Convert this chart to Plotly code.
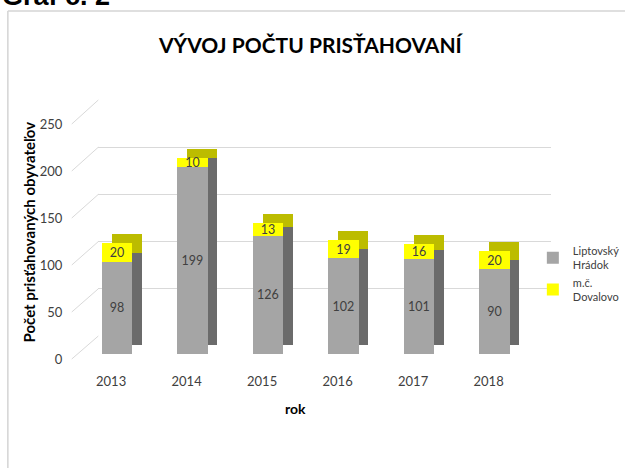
import plotly.graph_objects as go

years = ['2013', '2014', '2015', '2016', '2017', '2018']
hradok = [98, 199, 126, 102, 101, 90]
dovalovo = [20, 10, 13, 19, 16, 20]
y_ticks = [0, 50, 100, 150, 200, 250]

W, H = 625, 468
XW = 592  # paper width the page actually lays the figure out at
FONT = 'Lato, Open Sans, sans-serif'
TXT = '#404040'
GRID = '#d9d9d9'


def px(a):
    return a / XW


def dx(a, b):
    return [px(a), px(b)]


def dy(top, bottom):
    return [(H - bottom) / H, (H - top) / H]


def py(p):
    return (H - p) / H


fig = go.Figure()

# back wall (gridlines only)
fig.add_trace(go.Scatter(x=[0], y=[0], mode='markers', marker=dict(opacity=0),
                         showlegend=False, hoverinfo='skip', xaxis='x', yaxis='y'))

# side / top faces of the bars (shifted copy)
fig.add_trace(go.Bar(x=years, y=hradok, marker_color='#6b6b6b', width=0.4,
                     showlegend=False, hoverinfo='skip', xaxis='x2', yaxis='y2'))
fig.add_trace(go.Bar(x=years, y=dovalovo, marker_color='#bcbc00', width=0.4,
                     showlegend=False, hoverinfo='skip', xaxis='x2', yaxis='y2'))

# front faces
fig.add_trace(go.Bar(
    x=years, y=hradok, name='Liptovský<br>Hrádok', marker_color='#a5a5a5', width=0.4,
    text=hradok, textposition='inside', insidetextanchor='middle', textangle=0,
    textfont=dict(color=TXT, size=12.5, family=FONT), legendgroup='a',
    xaxis='x3', yaxis='y3'
))
fig.add_trace(go.Bar(
    x=years, y=dovalovo, name='m.č.<br>Dovalovo', marker_color='#ffff00', width=0.4,
    text=dovalovo, textposition='inside', insidetextanchor='middle', textangle=0,
    textfont=dict(color=TXT, size=12.5, family=FONT), legendgroup='b',
    xaxis='x3', yaxis='y3'
))

# axis labels
fig.add_trace(go.Scatter(x=years, y=[0] * 6, mode='markers', marker=dict(opacity=0),
                         showlegend=False, hoverinfo='skip', xaxis='x4', yaxis='y4'))

hidden = dict(showgrid=False, zeroline=False, showline=False, showticklabels=False,
              ticks='', automargin=False)

shapes = []
for v in y_ticks:
    shapes.append(dict(type='line', xref='paper', yref='paper',
                       x0=px(73), y0=py(359 - v * 235 / 250),
                       x1=px(100), y1=py(336 - v * 236 / 250),
                       line=dict(color=GRID, width=1)))
# chart frame
shapes.append(dict(type='line', xref='paper', yref='paper', x0=px(8), x1=px(660), y0=py(11), y1=py(11),
                   line=dict(color='#d4d4d4', width=1.5)))
shapes.append(dict(type='line', xref='paper', yref='paper', x0=px(8), x1=px(8), y0=0, y1=py(11),
                   line=dict(color='#d4d4d4', width=1.5)))

fig.update_layout(
    template='none',
    width=W, height=H,
    autosize=False,
    margin=dict(l=0, r=0, t=0, b=0),
    paper_bgcolor='white',
    plot_bgcolor='rgba(0,0,0,0)',
    barmode='stack',
    font=dict(family=FONT, color=TXT, size=13),
    uniformtext=dict(minsize=12.5, mode='show'),
    xaxis=dict(domain=dx(100, 560), range=[0, 1], anchor='y', **hidden),
    yaxis=dict(domain=dy(100, 336), range=[0, 250], anchor='x', showgrid=True,
               gridcolor=GRID, gridwidth=1, tickvals=y_ticks, zeroline=False,
               showline=False, showticklabels=False, ticks='', automargin=False),
    xaxis2=dict(domain=dx(90.6, 551.4), range=[-0.5, 5.5], anchor='y2', type='category', **hidden),
    yaxis2=dict(domain=dy(110, 345), range=[0, 250], anchor='x2', **hidden),
    xaxis3=dict(domain=dx(80.6, 541.4), range=[-0.5, 5.5], anchor='y3', type='category', **hidden),
    yaxis3=dict(domain=dy(119, 354), range=[0, 250], anchor='x3', **hidden),
    xaxis4=dict(domain=dx(74.6, 535.4), range=[-0.5, 5.5], anchor='y4', type='category',
                showgrid=False, zeroline=False, showline=False, ticks='',
                ticklabelstandoff=13, tickfont=dict(size=13, color=TXT), automargin=False),
    yaxis4=dict(domain=dy(124, 359), range=[0, 250], anchor='x4', tickvals=y_ticks,
                showgrid=False, zeroline=False, showline=False, ticks='',
                ticklabelstandoff=10, tickfont=dict(size=13, color=TXT), automargin=False),
    legend=dict(x=px(542), y=py(237), xanchor='left', yanchor='top',
                traceorder='normal', tracegroupgap=16, itemwidth=30,
                font=dict(size=11, color=TXT, family=FONT), bgcolor='rgba(0,0,0,0)'),
    shapes=shapes,
    annotations=[
        dict(text='<b>Graf č. 2</b>', xref='paper', yref='paper', x=0, y=py(13),
             xanchor='left', yanchor='bottom', showarrow=False,
             font=dict(size=27, color='black', family='Liberation Sans, Arial, sans-serif')),
        dict(text='<b>VÝVOJ POČTU PRISŤAHOVANÍ</b>', xref='paper', yref='paper', x=px(316), y=py(44),
             xanchor='center', yanchor='middle', showarrow=False,
             font=dict(size=21, color='black', family=FONT)),
        dict(text='<b>Počet prisťahovaných obyvateľov</b>', xref='paper', yref='paper',
             x=px(30), y=py(232), xanchor='center', yanchor='middle', textangle=-90,
             showarrow=False, font=dict(size=15, color='black', family=FONT)),
        dict(text='<b>rok</b>', xref='paper', yref='paper', x=px(301), y=py(408),
             xanchor='center', yanchor='middle', showarrow=False,
             font=dict(size=14, color='black', family=FONT)),
    ],
)

fig.write_html(
    'out.html',
    config={'responsive': False, 'displayModeBar': False},
    post_script=(
        "document.body.style.margin='0';"
        "document.body.style.overflow='hidden';"
    ),
)
